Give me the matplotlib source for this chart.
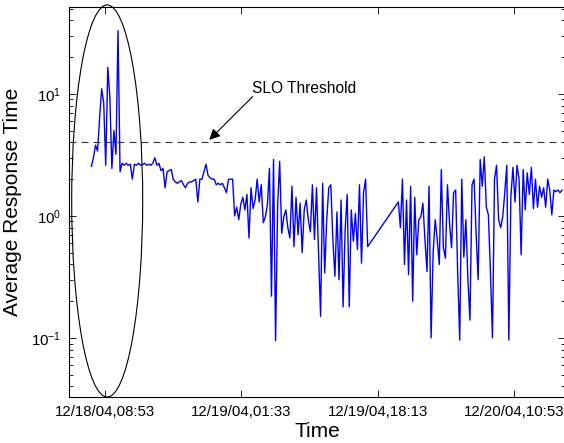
import numpy as np
import matplotlib
matplotlib.use("Agg")
import matplotlib.pyplot as plt
from matplotlib.patches import Ellipse

plt.rcParams['font.family'] = ['Liberation Sans', 'DejaVu Sans']
plt.rcParams['mathtext.fontset'] = 'custom'
plt.rcParams['mathtext.rm'] = 'Liberation Sans'
plt.rcParams['mathtext.default'] = 'regular'

# time in minutes since 12/18/04 08:53, one reading every 15 minutes
step_min = 15
start_1 = -100
start_2 = 2150

# average response time, first run (before the gap)
resp_1 = [2.55, 3.0, 3.8, 3.4, 6.3, 11.0, 8.5, 2.6, 16.5, 9.5,
          2.45, 5.0, 3.2, 33.0, 2.3, 2.7, 2.6, 2.7, 2.6, 2.65,
          2.0, 2.65, 2.6, 2.7, 2.6, 2.65, 2.7, 2.6, 2.65, 2.6,
          2.7, 3.0, 2.6, 2.7, 2.35, 2.45, 1.7, 2.3, 2.35, 2.4,
          2.0, 1.9, 1.85, 1.9, 1.95, 1.8, 1.7, 1.85, 1.9, 1.9,
          1.95, 2.0, 1.3, 2.0, 2.0, 2.3, 2.65, 2.15, 2.05, 2.0,
          2.0, 1.8, 1.85, 1.8, 1.85, 1.7, 1.55, 2.0, 2.0, 2.0,
          1.0, 1.18, 0.93, 1.25, 1.42, 1.12, 1.5, 0.66, 1.7, 1.15,
          1.35, 2.0, 1.3, 1.8, 0.88, 0.98, 1.23, 2.45, 0.22, 2.9,
          0.095, 1.2, 2.8, 0.72, 0.98, 1.12, 0.8, 0.66, 1.75, 0.56,
          1.42, 0.7, 1.27, 0.5, 1.12, 1.35, 0.93, 0.74, 1.8, 0.64,
          1.7, 0.5, 0.15, 1.85, 0.34, 0.93, 1.7, 1.8, 0.64, 0.32,
          1.08, 0.3, 1.35, 0.18, 0.77, 1.5, 0.18, 1.12, 0.62, 1.05,
          0.53, 1.8, 0.41, 1.55, 2.0, 0.56]

# second run (after the gap)
resp_2 = [1.3, 0.8, 2.0, 0.4, 1.35, 0.33, 1.75, 0.2, 1.42, 0.48,
          0.93, 0.98, 1.27, 0.64, 0.35, 1.75, 0.1, 0.5, 0.93, 0.64,
          0.4, 2.4, 0.55, 0.45, 1.8, 0.88, 0.55, 1.55, 1.63, 0.34,
          0.096, 2.0, 0.46, 0.93, 0.3, 0.14, 1.8, 2.0, 0.72, 0.3,
          2.9, 1.75, 3.05, 1.18, 1.02, 0.35, 0.1, 2.0, 2.6, 0.93,
          0.8, 0.98, 1.55, 2.6, 0.096, 1.45, 2.5, 1.3, 2.6, 2.0,
          0.48, 2.4, 1.12, 2.25, 1.5, 2.5, 1.15, 2.0, 1.18, 1.75,
          1.42, 1.7, 1.18, 2.0, 1.63, 1.02, 1.63, 1.58, 1.63, 1.55,
          1.63]

slo_threshold = 4.0
tick_minutes = [0, 1000, 2000, 3000]
tick_labels = ['12/18/04,08:53', '12/19/04,01:33', '12/19/04,18:13', '12/20/04,10:53']

t1 = start_1 + step_min * np.arange(len(resp_1))
t2 = start_2 + step_min * np.arange(len(resp_2))
t = np.concatenate([t1, t2])
resp = np.array(resp_1 + resp_2)

fig = plt.figure(figsize=(5.64, 4.43), dpi=100)
ax = fig.add_axes([0.1229, 0.1038, 0.878, 0.8815])

ax.plot(t, resp, color='blue', lw=1.0)
ax.axhline(slo_threshold, color='#333333', lw=0.8, linestyle=(0, (6.3, 4.5)))

ax.set_yscale('log')
ax.set_xlim(-262, 3368)
ax.set_ylim(0.0328, 52)

ax.set_xticks(tick_minutes)
ax.set_xticklabels(tick_labels)
ax.tick_params(direction='in', top=True, right=True, labelsize=10.8, width=0.6)
ax.tick_params(which='major', length=5, pad=6)
ax.tick_params(which='minor', direction='in', top=True, right=True, length=3, width=0.6)
ax.minorticks_on()
ax.xaxis.set_minor_locator(matplotlib.ticker.NullLocator())
for s in ax.spines.values():
    s.set_linewidth(0.8)

ax.set_xlabel('Time', fontsize=15, labelpad=2)
ax.set_ylabel('Average Response Time', fontsize=15, labelpad=6)

# oval around the early spikes
ell = Ellipse((0.0765, 0.502), 0.1434, 1.004, transform=ax.transAxes,
              fill=False, edgecolor='black', lw=0.8, clip_on=False)
ax.add_patch(ell)

ax.annotate('', xy=(764, 4.2), xytext=(1082, 9.5),
            arrowprops=dict(arrowstyle='-|>', color='black', lw=0.8,
                            mutation_scale=16, shrinkA=0, shrinkB=0))
ax.text(1075, 11.0, 'SLO Threshold', fontsize=11.2, ha='left', va='center')

fig.savefig('out.png', dpi=100)
